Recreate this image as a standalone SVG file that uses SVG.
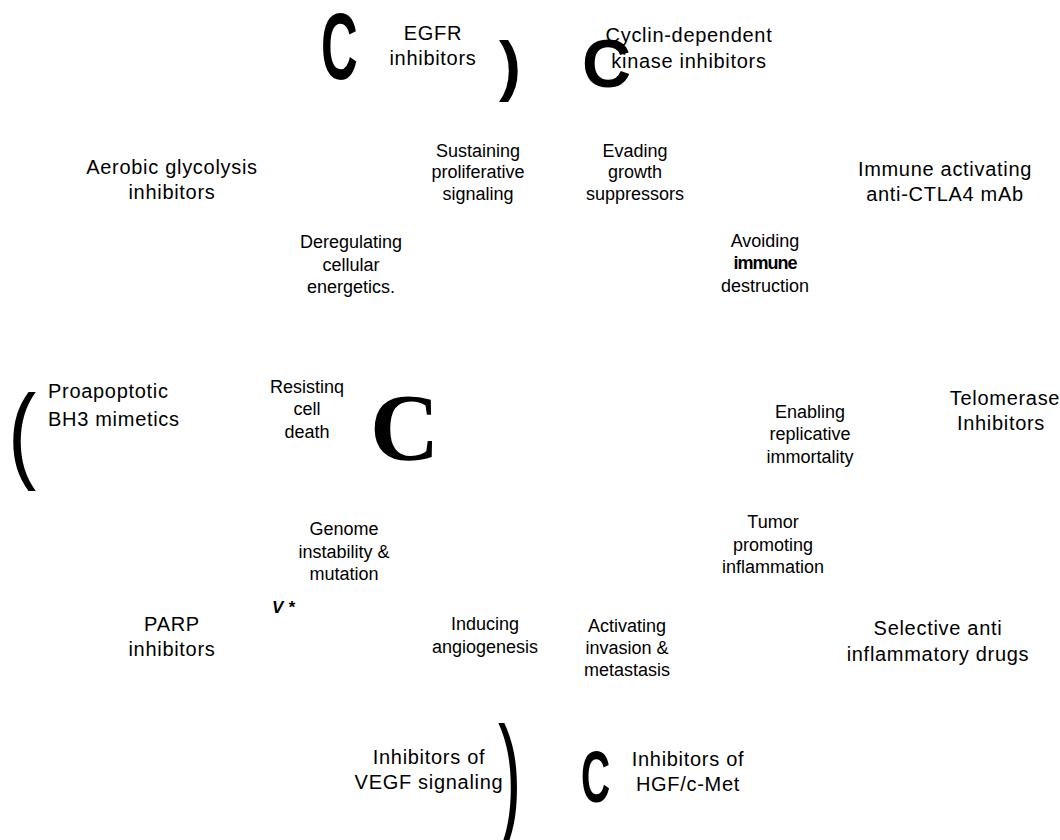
<svg xmlns="http://www.w3.org/2000/svg" width="1060" height="840" viewBox="0 0 1060 840">
<style>
.h{font-family:"Liberation Sans",Arial,sans-serif;font-size:18px;fill:#000;text-anchor:middle}
.d{font-family:"Liberation Sans",Arial,sans-serif;font-size:20px;letter-spacing:0.7px;fill:#000;text-anchor:middle}
.s{text-anchor:start}
.g{font-family:"Liberation Sans",Arial,sans-serif;fill:#000}
</style>
<rect width="1060" height="840" fill="#fff"/>
<g id="egfr"><text class="d" x="433" y="40">EGFR</text><text class="d" x="433" y="65">inhibitors</text></g>
<g id="cdk"><text class="d" x="689" y="42">Cyclin-dependent</text><text class="d" x="689" y="68">kinase inhibitors</text></g>
<g id="aerobic"><text class="d" x="172" y="174">Aerobic glycolysis</text><text class="d" x="172" y="199">inhibitors</text></g>
<g id="ctla4"><text class="d" x="945" y="176">Immune activating</text><text class="d" x="945" y="201">anti-CTLA4 mAb</text></g>
<g id="bh3"><text class="d s" x="48" y="398">Proapoptotic</text><text class="d s" x="48" y="426">BH3 mimetics</text></g>
<g id="telomerase"><text class="d" x="1005" y="405">Telomerase</text><text class="d" x="1001" y="430">Inhibitors</text></g>
<g id="parp"><text class="d" x="172" y="631">PARP</text><text class="d" x="172" y="656">inhibitors</text></g>
<g id="antiinfl"><text class="d" x="938" y="635">Selective anti</text><text class="d" x="938" y="661">inflammatory drugs</text></g>
<g id="vegf"><text class="d" x="429" y="764">Inhibitors of</text><text class="d" x="429" y="789">VEGF signaling</text></g>
<g id="hgf"><text class="d" x="688" y="766">Inhibitors of</text><text class="d" x="688" y="791">HGF/c-Met</text></g>

<g id="sustaining"><text class="h" x="478" y="157">Sustaining</text><text class="h" x="478" y="178">proliferative</text><text class="h" x="478" y="200">signaling</text></g>
<g id="evading"><text class="h" x="635" y="157">Evading</text><text class="h" x="635" y="178">growth</text><text class="h" x="635" y="200">suppressors</text></g>
<g id="deregulating"><text class="h" x="351" y="248">Deregulating</text><text class="h" x="351" y="271">cellular</text><text class="h" x="351" y="293">energetics.</text></g>
<g id="avoiding"><text class="h" x="765" y="247">Avoiding</text><text class="h" x="765" y="269" style="font-weight:bold;letter-spacing:-1px">immune</text><text class="h" x="765" y="292">destruction</text></g>
<g id="resisting"><text class="h" x="307" y="393">Resistinq</text><text class="h" x="307" y="415">cell</text><text class="h" x="307" y="438">death</text></g>
<g id="enabling"><text class="h" x="810" y="418">Enabling</text><text class="h" x="810" y="440">replicative</text><text class="h" x="810" y="463">immortality</text></g>
<g id="genome"><text class="h" x="344" y="535">Genome</text><text class="h" x="344" y="558">instability &amp;</text><text class="h" x="344" y="580">mutation</text></g>
<g id="tumor"><text class="h" x="773" y="528">Tumor</text><text class="h" x="773" y="551">promoting</text><text class="h" x="773" y="573">inflammation</text></g>
<g id="inducing"><text class="h" x="485" y="630">Inducing</text><text class="h" x="485" y="653">angiogenesis</text></g>
<g id="activating"><text class="h" x="627" y="632">Activating</text><text class="h" x="627" y="654">invasion &amp;</text><text class="h" x="627" y="676">metastasis</text></g>

<g id="glyphs">
<text class="g" transform="translate(321,79) scale(0.54,1)" font-size="94" font-weight="bold">C</text>
<text class="g" x="499" y="88" font-size="66" font-weight="bold">)</text>
<text class="g" x="582" y="87" font-size="68" font-weight="bold">C</text>
<text class="g" transform="translate(8,469) scale(0.8,1)" font-size="106">(</text>
<text x="370" y="460" font-size="96" font-weight="bold" style="font-family:'Liberation Serif','Times New Roman',serif">C</text>
<text class="g" x="272" y="613" font-size="17" font-weight="bold" font-style="italic">V *</text>
<text class="g" transform="translate(498,824) scale(0.5,1)" font-size="140">)</text>
<text class="g" transform="translate(581,802) scale(0.56,1)" font-size="72" font-weight="bold">C</text>
</g>
<g id="connectors"/>
</svg>
